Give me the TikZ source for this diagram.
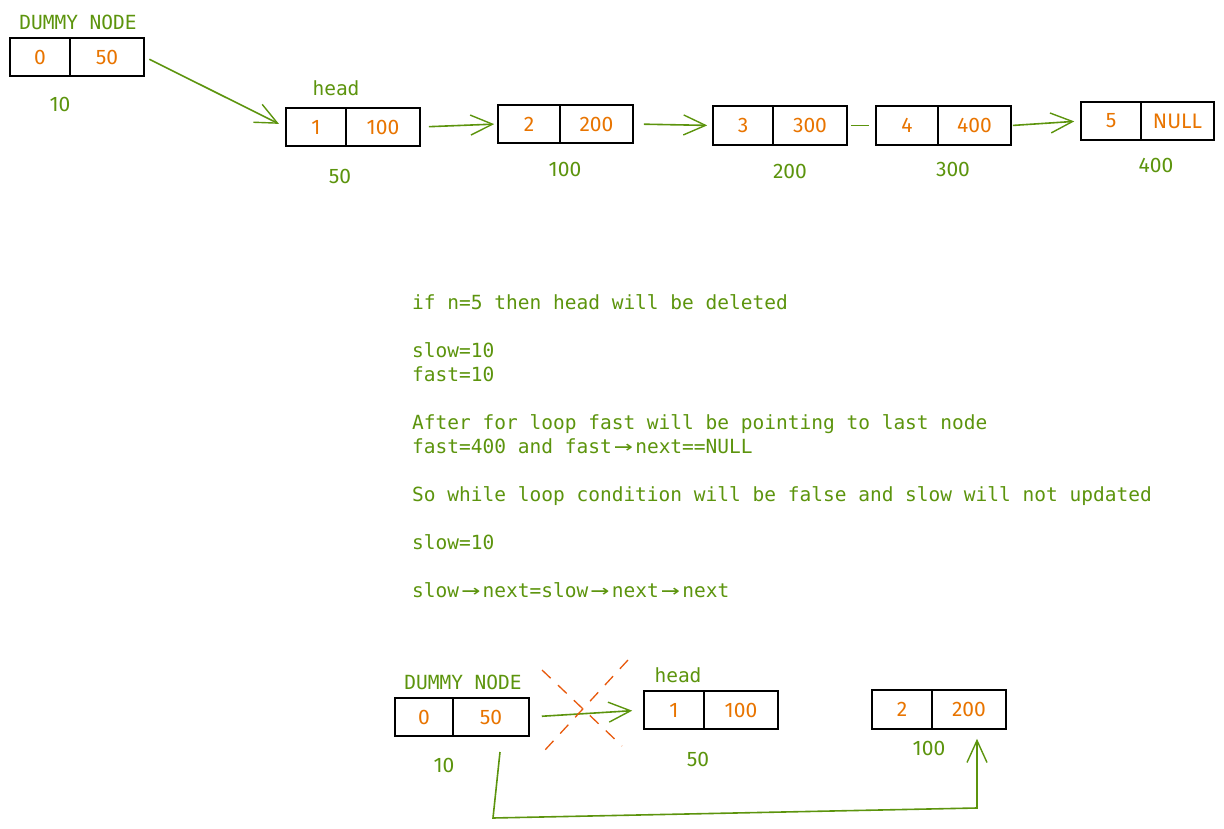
\documentclass[tikz,border=0pt]{standalone}
\usepackage{fontspec}
\setmainfont{Fira Sans}
\setmonofont{DejaVu Sans Mono}
\usetikzlibrary{arrows.meta,calc}
\definecolor{grn}{HTML}{5C940D}
\definecolor{org}{HTML}{E87400}
\definecolor{crs}{HTML}{E8590C}
\newcommand\lft[1]{#1\hspace{16pt}}
\newcommand\arw{\makebox[23.5pt][c]{\scalebox{1.6}[1.1]{→}}}
\begin{document}
\begin{tikzpicture}[x=1pt,y=-1pt,
  cell/.style={draw=black, line width=1.6pt, minimum height=38pt, inner sep=0pt, text=org, font=\fontsize{21}{21}\selectfont},
  addr/.style={text=grn, inner sep=0pt, font=\fontsize{21}{21}\selectfont},
  mlabel/.style={text=grn, inner sep=0pt, font=\ttfamily\fontsize{19.5}{19.5}\selectfont},
  code/.style={text=grn, inner sep=0pt, anchor=base west, font=\ttfamily\fontsize{19.5}{19.5}\selectfont},
  arr/.style={draw=grn, line width=1.6pt, -{Straight Barb[length=22pt,width=20pt,line width=1.4pt]}},
  link/.style={draw=grn, line width=1.6pt},
  cross/.style={draw=crs, line width=1.3pt, dash pattern=on 12pt off 10pt}]
\useasboundingbox (0,0) rectangle (1224,829);

% ---- top row ----
\node[cell, minimum width=60pt] (d0) at (40,57) {\lft{0}};
\node[cell, minimum width=74pt] (d1) at (107,57) {50};
\node[mlabel] (dlab) at (78,22) {DUMMY NODE};
\node[addr] (da) at (60,104) {10};

\node[cell, minimum width=60pt] (h0) at (316,127) {\lft{1}};
\node[cell, minimum width=74pt] (h1) at (383,127) {100};
\node[mlabel] (hlab) at (336,88) {head};
\node[addr] (ha) at (340,176) {50};

\node[cell, minimum width=62pt] (b2a) at (529,124) {\lft{2}};
\node[cell, minimum width=73pt] (b2b) at (596.5,124) {200};
\node[addr] (b2adr) at (565,169) {100};

\node[cell, minimum width=60pt, minimum height=39pt] (b3a) at (743,125.5) {\lft{3}};
\node[cell, minimum width=74pt, minimum height=39pt] (b3b) at (810,125.5) {300};
\node[addr] (b3adr) at (790,171) {200};

\node[cell, minimum width=62pt, minimum height=39pt] (b4a) at (907,125.5) {\lft{4}};
\node[cell, minimum width=73pt, minimum height=39pt] (b4b) at (974.5,125.5) {400};
\node[addr] (b4adr) at (953,169) {300};

\node[cell, minimum width=60pt] (b5a) at (1111,121) {\lft{5}};
\node[cell, minimum width=73pt] (b5b) at (1177.5,121) {NULL};
\node[addr] (b5adr) at (1156,165) {400};

\draw[arr, shorten <=5pt, shorten >=7pt] (d1.east) -- (h0.west);
\draw[arr, shorten <=8pt, shorten >=3pt] (h1.east) -- (b2a.west);
\draw[arr, shorten <=10pt, shorten >=5pt] (b2b.east) -- (b3a.west);
\draw[link, shorten <=3pt, shorten >=6pt] (b3b.east) -- (b4a.west);
\draw[arr, shorten <=1pt, shorten >=6pt] (b4b.east) -- (b5a.west);

% ---- explanation ----
\node[code] (t1) at (412,309) {if n=5 then head will be deleted};
\node[code] (t2) at (412,357) {slow=10};
\node[code] (t3) at (412,381) {fast=10};
\node[code] (t4) at (412,429) {After for loop fast will be pointing to last node};
\node[code] (t5) at (412,453) {fast=400 and fast\arw next==NULL};
\node[code] (t6) at (412,501) {So while loop condition will be false and slow will not updated};
\node[code] (t7) at (412,549) {slow=10};
\node[code] (t8) at (412,597) {slow\arw next=slow\arw next\arw next};

% ---- bottom row ----
\node[cell, minimum width=58pt] (bd0) at (424,717) {\lft{0}};
\node[cell, minimum width=76pt] (bd1) at (491,717) {50};
\node[mlabel] (bdlab) at (463,682) {DUMMY NODE};
\node[addr] (bda) at (444,765) {10};

\node[cell, minimum width=60pt] (bh0) at (674,710) {\lft{1}};
\node[cell, minimum width=74pt] (bh1) at (741,710) {100};
\node[mlabel] (bhlab) at (678,675) {head};
\node[addr] (bha) at (698,759) {50};

\node[cell, minimum width=60pt, minimum height=39pt] (bb2a) at (902,709.5) {\lft{2}};
\node[cell, minimum width=74pt, minimum height=39pt] (bb2b) at (969,709.5) {200};
\node[addr] (bb2adr) at (929,748) {100};

\draw[arr, shorten <=12pt, shorten >=11pt] (bd1.east) -- (bh0.west);

\coordinate (x1s) at (542,670);
\coordinate (x1e) at (622,746);
\coordinate (x2s) at (628,660);
\coordinate (x2e) at (545,750);
\draw[cross] (x1s) -- (x1e);
\draw[cross] (x2s) -- (x2e);

\coordinate (c0) at (500,752);
\coordinate (c1) at (493,818);
\coordinate (c2) at (977,808);
\draw[arr, shorten >=9pt] (c0) -- (c1) -- (c2) -- (c2 |- bb2b.south);
\end{tikzpicture}
\end{document}
